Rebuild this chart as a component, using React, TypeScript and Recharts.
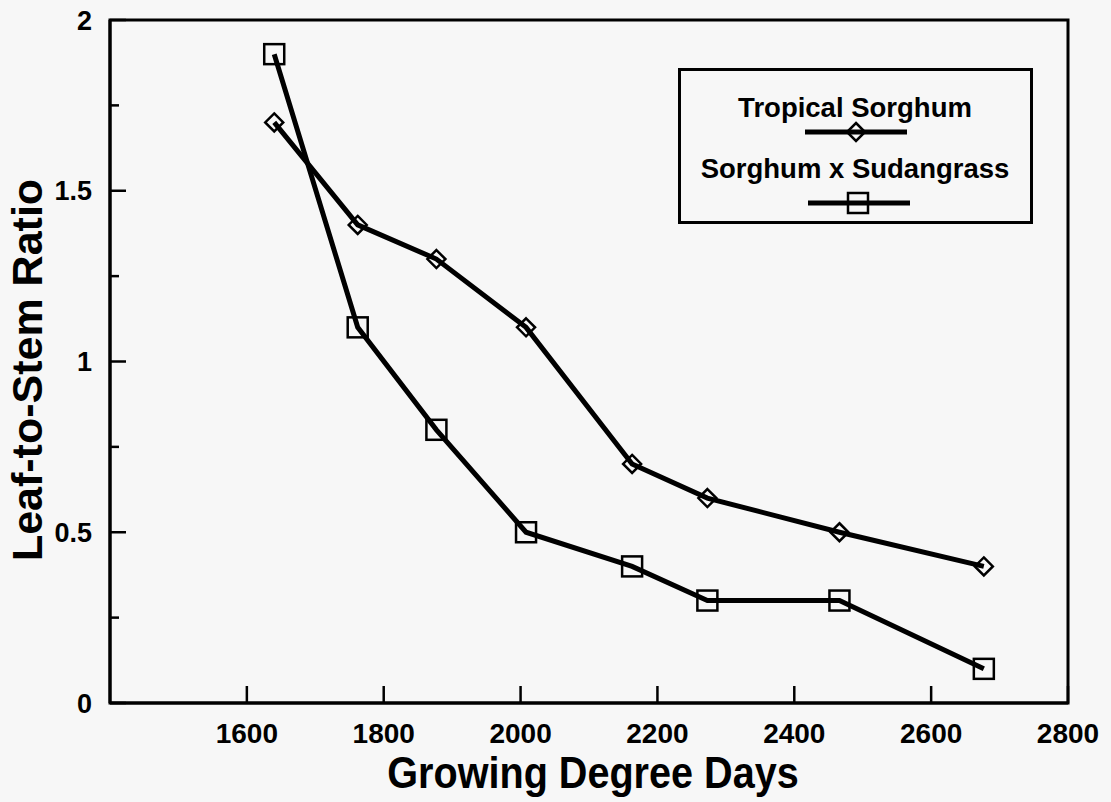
import { LineChart, Line, XAxis, YAxis, ReferenceArea, Legend, Label } from 'recharts';

// growing degree days at each sampling
const gdd = [1640, 1762, 1877, 2008, 2163, 2273, 2466, 2677];
const tropicalSorghum = [1.7, 1.4, 1.3, 1.1, 0.7, 0.6, 0.5, 0.4];
const sorghumSudan = [1.9, 1.1, 0.8, 0.5, 0.4, 0.3, 0.3, 0.1];

const xTicks = [1600, 1800, 2000, 2200, 2400, 2600, 2800];
const yTicks = [0, 0.25, 0.5, 0.75, 1, 1.25, 1.5, 1.75, 2];

const data = gdd.map((g, i) => ({
  gdd: g,
  tropical: tropicalSorghum[i],
  sudan: sorghumSudan[i],
}));

const FONT = '"Liberation Sans", Arial, sans-serif';
const INK = '#000';

const XTick = (props: any) => {
  const { x, y, payload } = props;
  return (
    <g>
      <line x1={x} y1={y} x2={x} y2={y - 17} stroke={INK} strokeWidth={2.5} />
      <text x={x} y={y + 40} textAnchor="middle" fontSize={28} fontWeight="bold" fontFamily={FONT} fill={INK}>
        {payload.value}
      </text>
    </g>
  );
};

const YTick = (props: any) => {
  const { x, y, payload } = props;
  const major = payload.value % 0.5 === 0;
  return (
    <g>
      <line x1={x} y1={y} x2={x + (major ? 16 : 9)} y2={y} stroke={INK} strokeWidth={2.5} />
      {major && (
        <text x={x - 18} y={y} dy="0.36em" textAnchor="end" fontSize={27} fontWeight="bold" fontFamily={FONT} fill={INK}>
          {String(payload.value)}
        </text>
      )}
    </g>
  );
};

const Diamond = ({ cx, cy }: any) => {
  const r = 9;
  return (
    <polygon
      points={`${cx},${cy - r} ${cx + r},${cy} ${cx},${cy + r} ${cx - r},${cy}`}
      fill="none"
      stroke={INK}
      strokeWidth={2.5}
    />
  );
};

const Square = ({ cx, cy }: any) => (
  <rect x={cx - 10} y={cy - 10} width={20} height={20} fill="none" stroke={INK} strokeWidth={2.5} />
);

const renderLegend = () => (
  <div style={{ width: 355, height: 156, boxSizing: 'border-box', border: '3px solid #000' }}>
    <svg width={349} height={150} style={{ display: 'block' }}>
      <g fontFamily={FONT} fontWeight="bold" fontSize={27.5} fill={INK} textAnchor="middle">
        <text x={174} y={46}>Tropical Sorghum</text>
        <text x={174} y={107}>Sorghum x Sudangrass</text>
      </g>
      <line x1={124} y1={61} x2={226} y2={61} stroke={INK} strokeWidth={5} />
      <Diamond cx={175} cy={61} />
      <line x1={127} y1={132} x2={229} y2={132} stroke={INK} strokeWidth={5} />
      <Square cx={177} cy={132} />
    </svg>
  </div>
);

const XTitle = () => (
  <text
    x={0}
    y={0}
    transform="translate(593 788) scale(0.9 1)"
    textAnchor="middle"
    fontSize={44}
    fontWeight="bold"
    fontFamily={FONT}
    fill={INK}
  >
    Growing Degree Days
  </text>
);

const YTitle = () => (
  <text
    x={42}
    y={370}
    transform="rotate(-90 42 370)"
    textAnchor="middle"
    fontSize={43}
    fontWeight="bold"
    fontFamily={FONT}
    fill={INK}
  >
    Leaf-to-Stem Ratio
  </text>
);

const App = () => {
  return (
    <div style={{ position: 'absolute', left: 0, top: 0, width: 1111, height: 802, background: '#f7f7f7' }}>
      <LineChart width={1111} height={802} data={data} margin={{ top: 20, right: 43, bottom: 0, left: 0 }}>
        <XAxis
          dataKey="gdd"
          type="number"
          domain={[1400, 2800]}
          ticks={xTicks}
          height={99}
          tickSize={0}
          tickMargin={0}
          tickLine={false}
          tick={<XTick />}
          axisLine={{ stroke: INK, strokeWidth: 3 }}
          allowDataOverflow
        >
          <Label content={<XTitle />} />
        </XAxis>
        <YAxis
          type="number"
          domain={[0, 2]}
          ticks={yTicks}
          width={110}
          tickSize={0}
          tickMargin={0}
          tickLine={false}
          tick={<YTick />}
          axisLine={{ stroke: INK, strokeWidth: 3 }}
          allowDataOverflow
        >
          <Label content={<YTitle />} />
        </YAxis>
        <ReferenceArea x1={1400} x2={2800} y1={0} y2={2} fill="none" stroke={INK} strokeWidth={3} />
        <Legend
          content={renderLegend}
          layout="horizontal"
          verticalAlign="middle"
          align="center"
          wrapperStyle={{ position: 'absolute', left: 678, top: 68, width: 355, height: 156 }}
        />
        <Line
          type="linear"
          dataKey="tropical"
          name="Tropical Sorghum"
          stroke={INK}
          strokeWidth={5}
          dot={<Diamond />}
          activeDot={false}
          isAnimationActive={false}
        />
        <Line
          type="linear"
          dataKey="sudan"
          name="Sorghum x Sudangrass"
          stroke={INK}
          strokeWidth={5}
          dot={<Square />}
          activeDot={false}
          isAnimationActive={false}
        />
      </LineChart>
    </div>
  );
};

export default App;
